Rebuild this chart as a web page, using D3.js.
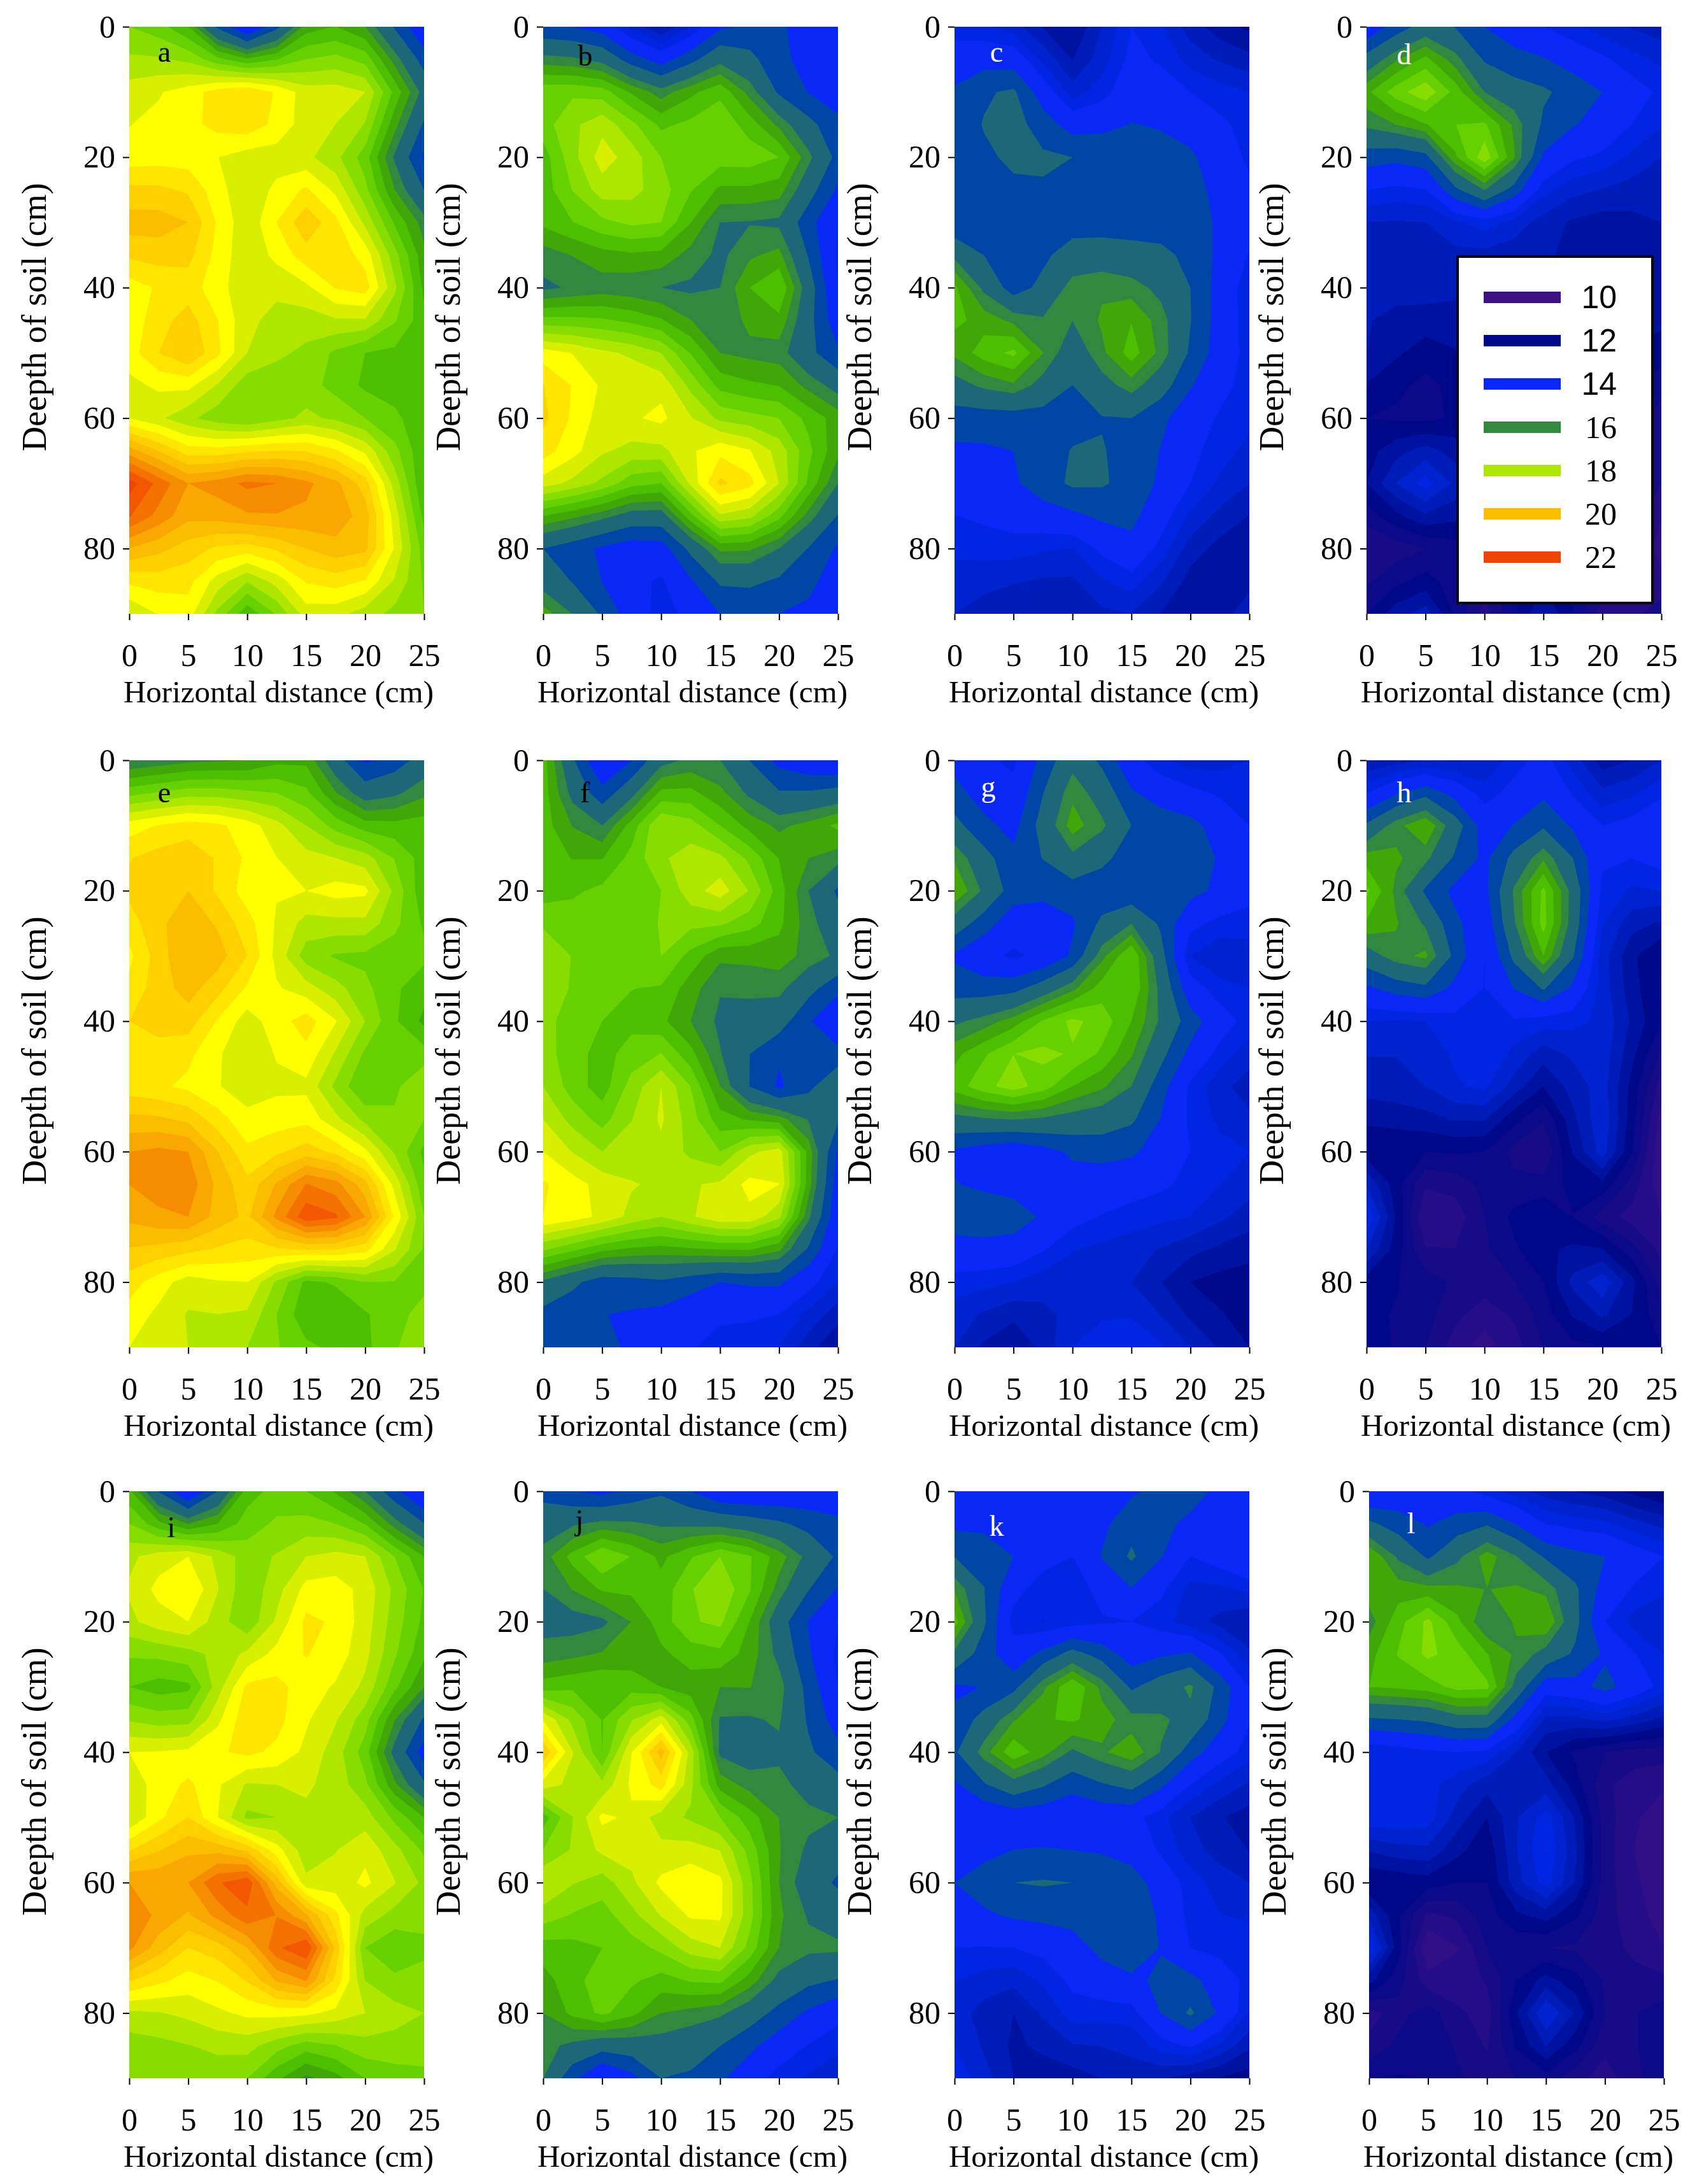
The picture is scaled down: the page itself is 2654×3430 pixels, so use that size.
<!DOCTYPE html>
<html>
<head>
<meta charset="utf-8">
<script src="https://cdn.jsdelivr.net/npm/d3@7"></script>
<style>
  html, body { margin: 0; padding: 0; background: #fff; }
  text { font-family: "Liberation Serif", serif; fill: #000; }
</style>
</head>
<body>
<svg id="chart" width="2654" height="3430"></svg>
<script>
// grid of the measurements
var distances = [0, 5, 10, 15, 20, 25];
var depths = [0, 10, 20, 30, 40, 50, 60, 70, 80, 90];

// rows are depths, columns are distances
var panelA = [
  [17.6, 16.8, 14.0, 16.6, 16.4, 14.1],
  [18.6, 19.0, 19.6, 18.6, 18.4, 15.8],
  [19.0, 19.0, 18.6, 18.5, 17.4, 14.6],
  [20.2, 20.0, 18.5, 19.9, 18.3, 16.2],
  [19.0, 19.4, 18.5, 18.7, 19.4, 16.7],
  [19.0, 20.0, 18.4, 17.9, 17.2, 17.1],
  [18.8, 18.1, 17.6, 18.1, 17.6, 17.0],
  [22.2, 20.8, 21.3, 20.9, 19.8, 16.8],
  [20.4, 19.8, 19.4, 20.0, 20.1, 17.4],
  [18.4, 19.0, 16.9, 18.6, 18.2, 17.6]
];
var panelB = [
  [14.8, 14.4, 12.8, 14.6, 14.8, 14.0],
  [17.5, 17.4, 16.2, 17.1, 15.2, 14.4],
  [17.0, 18.6, 17.6, 17.4, 17.2, 15.1],
  [16.9, 17.5, 17.6, 16.0, 15.9, 14.0],
  [15.9, 16.2, 16.0, 16.0, 17.2, 14.0],
  [19.0, 18.5, 18.0, 16.4, 16.2, 14.8],
  [19.7, 18.6, 18.9, 17.9, 17.6, 16.6],
  [18.6, 17.9, 17.2, 19.7, 18.4, 16.0],
  [15.3, 14.6, 14.4, 16.5, 16.0, 14.6],
  [16.6, 15.2, 13.8, 14.7, 14.7, 14.5]
];
var panelC = [
  [13.8, 13.4, 12.4, 14.0, 13.0, 12.3],
  [14.8, 15.4, 13.4, 14.4, 14.0, 13.6],
  [15.0, 15.4, 15.3, 15.0, 14.8, 13.9],
  [14.8, 15.0, 15.0, 15.0, 15.0, 14.2],
  [16.9, 15.0, 16.2, 16.2, 15.3, 13.7],
  [16.5, 17.3, 15.6, 17.0, 15.2, 13.8],
  [15.0, 15.0, 15.1, 15.3, 14.3, 13.7],
  [14.3, 14.6, 15.4, 15.1, 14.0, 13.2],
  [13.7, 13.8, 13.6, 14.5, 13.0, 12.5],
  [13.2, 12.8, 12.9, 13.2, 12.4, 13.0]
];
var panelD = [
  [14.2, 15.6, 14.7, 14.0, 13.4, 13.0],
  [16.7, 17.9, 16.0, 15.4, 14.7, 13.9],
  [15.0, 15.1, 17.9, 14.6, 13.9, 13.2],
  [13.2, 13.2, 13.8, 13.0, 12.6, 12.8],
  [12.8, 13.0, 12.8, 12.8, 13.0, 12.7],
  [12.8, 12.2, 12.6, 12.5, 12.4, 12.2],
  [12.0, 11.9, 12.2, 12.0, 12.0, 11.4],
  [12.4, 13.8, 12.2, 12.0, 12.0, 11.2],
  [11.2, 11.6, 12.0, 12.0, 12.0, 10.6],
  [12.0, 13.0, 11.0, 12.8, 11.0, 11.4]
];
var panelE = [
  [16.0, 16.3, 16.4, 16.7, 14.6, 15.6],
  [19.0, 19.4, 19.0, 18.0, 17.0, 17.0],
  [19.7, 20.0, 19.0, 18.8, 18.9, 16.9],
  [19.1, 20.4, 19.6, 17.8, 17.5, 17.3],
  [19.6, 19.8, 18.6, 19.4, 18.0, 16.7],
  [19.4, 19.1, 18.6, 18.7, 17.2, 18.0],
  [20.8, 20.8, 19.3, 19.8, 18.9, 17.1],
  [20.5, 20.8, 19.9, 21.9, 20.8, 17.6],
  [19.4, 18.6, 18.8, 17.1, 17.6, 17.5],
  [18.8, 18.4, 18.0, 17.3, 17.1, 18.0]
];
var panelF = [
  [17.0, 14.0, 15.8, 16.0, 14.5, 14.0],
  [17.0, 16.0, 18.0, 17.2, 16.3, 16.9],
  [17.0, 17.3, 17.6, 18.6, 17.0, 15.2],
  [18.0, 17.2, 17.6, 16.5, 16.6, 15.9],
  [17.7, 17.2, 16.9, 15.9, 15.6, 14.0],
  [18.0, 17.0, 18.4, 16.4, 14.6, 15.9],
  [18.8, 18.0, 18.3, 17.6, 18.6, 14.6],
  [19.2, 18.7, 18.0, 18.7, 18.1, 14.2],
  [15.9, 15.0, 15.2, 14.7, 14.8, 13.6],
  [14.7, 14.9, 14.2, 13.9, 13.6, 12.4]
];
var panelG = [
  [14.5, 13.9, 15.8, 14.2, 13.4, 13.6],
  [15.5, 14.5, 16.6, 15.3, 14.9, 14.0],
  [16.8, 15.0, 15.0, 14.8, 14.9, 14.2],
  [14.6, 13.9, 14.8, 17.2, 13.6, 13.4],
  [15.9, 16.6, 17.7, 16.8, 15.0, 13.8],
  [17.0, 17.8, 16.8, 16.0, 13.9, 13.0],
  [14.6, 14.2, 14.8, 14.8, 14.0, 13.6],
  [15.0, 15.0, 14.2, 13.8, 13.6, 13.0],
  [13.8, 13.6, 13.2, 13.2, 12.4, 12.2],
  [13.2, 12.4, 13.6, 14.0, 13.2, 12.4]
];
var panelH = [
  [12.8, 13.2, 13.2, 14.2, 12.6, 13.2],
  [15.4, 16.8, 14.4, 15.2, 14.0, 14.5],
  [17.3, 15.2, 14.5, 17.3, 13.9, 13.6],
  [15.7, 16.5, 14.0, 16.8, 13.4, 12.0],
  [13.6, 13.6, 14.0, 13.8, 13.5, 12.0],
  [13.0, 13.2, 13.7, 12.4, 13.4, 11.0],
  [12.2, 12.0, 12.0, 11.2, 13.4, 10.4],
  [14.0, 10.8, 11.6, 12.4, 11.4, 10.8],
  [12.2, 11.8, 11.4, 12.0, 13.5, 11.4],
  [12.2, 11.6, 10.6, 11.6, 12.0, 12.0]
];
var panelI = [
  [16.9, 14.0, 17.0, 17.2, 16.0, 13.9],
  [18.3, 18.8, 17.8, 18.4, 18.4, 16.8],
  [18.3, 18.8, 17.7, 19.3, 18.6, 17.1],
  [17.2, 17.1, 19.3, 19.0, 18.3, 16.4],
  [18.8, 18.9, 19.3, 18.7, 17.4, 14.4],
  [18.4, 19.6, 17.9, 18.3, 18.2, 16.8],
  [20.8, 20.8, 21.9, 18.5, 18.9, 17.9],
  [20.9, 19.6, 20.4, 22.0, 17.6, 17.5],
  [18.3, 18.5, 18.9, 18.9, 18.4, 18.0],
  [17.6, 17.6, 17.6, 16.3, 17.2, 17.5]
];
var panelJ = [
  [15.1, 14.5, 15.2, 14.1, 14.1, 14.3],
  [16.2, 17.6, 16.7, 17.6, 16.6, 15.2],
  [15.8, 15.9, 17.0, 17.7, 15.6, 14.0],
  [17.0, 17.2, 16.8, 16.4, 16.2, 14.0],
  [20.0, 17.2, 20.2, 15.9, 15.9, 14.9],
  [17.0, 18.9, 18.2, 17.6, 16.4, 16.0],
  [18.4, 17.8, 18.9, 18.9, 16.4, 15.2],
  [17.0, 17.2, 17.7, 18.4, 16.4, 16.1],
  [16.4, 17.3, 16.4, 16.1, 15.1, 14.2],
  [16.0, 13.9, 15.3, 14.8, 13.8, 13.4]
];
var panelK = [
  [14.0, 14.2, 14.0, 14.6, 15.0, 14.0],
  [15.3, 14.7, 14.0, 15.4, 14.0, 14.7],
  [17.0, 13.8, 13.8, 14.0, 13.4, 12.8],
  [14.6, 15.1, 17.2, 15.2, 16.1, 14.0],
  [15.2, 17.1, 15.9, 16.7, 15.0, 13.8],
  [14.0, 14.3, 14.2, 14.2, 13.2, 12.6],
  [14.7, 15.3, 15.3, 15.0, 13.8, 13.2],
  [14.0, 14.0, 14.4, 15.2, 14.0, 13.8],
  [13.4, 12.8, 13.8, 13.8, 15.4, 13.6],
  [13.9, 12.8, 12.6, 13.0, 12.6, 12.2]
];
var panelL = [
  [14.0, 14.4, 13.8, 13.0, 12.6, 12.0],
  [16.8, 15.2, 16.6, 15.2, 14.7, 14.0],
  [16.2, 17.7, 16.0, 16.8, 14.0, 13.2],
  [16.8, 17.0, 17.3, 14.3, 14.9, 13.8],
  [13.6, 13.9, 13.9, 12.4, 11.6, 11.4],
  [13.9, 13.8, 12.4, 13.8, 11.4, 10.6],
  [12.0, 12.2, 12.0, 13.8, 11.4, 10.6],
  [14.0, 10.4, 11.6, 11.6, 11.4, 10.8],
  [11.0, 11.8, 11.0, 13.6, 11.6, 11.8],
  [12.0, 12.0, 11.4, 11.8, 11.0, 12.0]
];

var panels = [panelA, panelB, panelC, panelD, panelE, panelF, panelG, panelH, panelI, panelJ, panelK, panelL];
var letters = ["a", "b", "c", "d", "e", "f", "g", "h", "i", "j", "k", "l"];
var letterColors = ["#000", "#000", "#fff", "#fff", "#000", "#000", "#fff", "#fff", "#000", "#000", "#fff", "#fff"];
var letterDx = [55, 66, 66, 59, 55, 66, 53, 59, 66, 57, 66, 66];
var letterDy = [55, 61, 55, 59, 66, 66, 57, 66, 72, 61, 70, 66];

// colour bands, each one runs from its level up to the next level
var levels = [10, 10.4, 10.8, 11.2, 11.6, 12, 12.4, 12.8, 13.2, 13.6, 14, 14.7, 15.3, 16, 16.4, 16.8, 17.2, 17.6, 18, 18.4, 18.8, 19.2, 19.6, 20, 20.4, 20.8, 21.2, 21.6, 22];
var bandColors = ["#3b1184", "#2f0f85", "#240d87", "#180b88", "#0c0a8a", "#00088a", "#0012a0", "#001cb8", "#0022cf", "#0026e2", "#0a28f5", "#0047a5", "#1d6878", "#33883f", "#3fa707", "#4cc000", "#66d000", "#88dd00", "#aee600", "#d8f000", "#ffff00", "#ffe600", "#ffd000", "#fbbd00", "#f8a800", "#f68c00", "#f37200", "#f15800", "#f04400"];

var legendValues = ["10", "12", "14", "16", "18", "20", "22"];
var legendColors = ["#3b1184", "#00088a", "#0a28f5", "#33883f", "#aee600", "#fbbd00", "#f04400"];

var xTicks = [0, 5, 10, 15, 20, 25];
var yTicks = [0, 20, 40, 60, 80];

// placement on the page
var colLeft = [203, 853, 1499, 2146];
var rowTop = [42, 1194, 2342];
var panelW = 463;
var panelH_px = 922;

// the contour mesh is twice as fine as the measured grid, rounds off the diamonds
var refine = 2;

var cubic = function (a, b, c, d, t) {
  return b + 0.5 * t * (c - a + t * (2 * a - 5 * b + 4 * c - d + t * (3 * (b - c) + d - a)));
};

var refineLine = function (line) {
  var out = [];
  var n = line.length;
  for (var i = 0; i < n - 1; i++) {
    for (var k = 0; k < refine; k++) {
      out.push(cubic(line[Math.max(i - 1, 0)], line[i], line[i + 1], line[Math.min(i + 2, n - 1)], k / refine));
    }
  }
  out.push(line[n - 1]);
  return out;
};

var refineGrid = function (values) {
  var rows = values.map(refineLine);
  var cols = d3.transpose(rows).map(refineLine);
  return d3.transpose(cols);
};

var svg = d3.select("#chart");
var defs = svg.append("defs");

panels.forEach(function (values, idx) {
  var col = idx % 4;
  var row = Math.floor(idx / 4);
  var left = colLeft[col] + (idx == 11 ? 4 : 0);
  var top = rowTop[row];

  var x = d3.scaleLinear().domain([0, 25]).range([0, panelW]);
  var y = d3.scaleLinear().domain([0, 90]).range([0, panelH_px]);

  var g = svg.append("g").attr("transform", "translate(" + left + "," + top + ")");

  defs.append("clipPath").attr("id", "clip" + idx)
    .append("rect").attr("width", panelW).attr("height", panelH_px);

  // d3.contours puts grid point i at i + 0.5
  var proj = d3.geoTransform({
    point: function (px, py) {
      this.stream.point(x((px - 0.5) * 5 / refine), y((py - 0.5) * 10 / refine));
    }
  });
  var path = d3.geoPath(proj);
  var fine = refineGrid(values);
  var contours = d3.contours()
    .size([fine[0].length, fine.length])
    .thresholds(levels)(d3.merge(fine));

  g.append("g").attr("clip-path", "url(#clip" + idx + ")")
    .selectAll("path")
    .data(contours)
    .enter()
    .append("path")
    .attr("d", path)
    .attr("fill", function (d, i) { return bandColors[i]; });

  var xAxis = g.append("g").attr("transform", "translate(0," + panelH_px + ")")
    .call(d3.axisBottom(x).tickValues(xTicks).tickSize(10).tickPadding(36));
  var yAxis = g.append("g")
    .call(d3.axisLeft(y).tickValues(yTicks).tickSize(10).tickPadding(12));

  [xAxis, yAxis].forEach(function (a) {
    a.select(".domain").remove();
    a.selectAll("line").attr("stroke", "#000").attr("stroke-width", 2);
    a.selectAll("text")
      .attr("font-family", "Liberation Serif")
      .attr("font-size", 50);
  });

  g.append("text")
    .attr("x", panelW / 2 + 3)
    .attr("y", panelH_px + 139)
    .attr("text-anchor", "middle")
    .attr("font-size", 49)
    .text("Horizontal distance (cm)");

  g.append("text")
    .attr("transform", "translate(-131," + (panelH_px / 2 - 5) + ") rotate(-90)")
    .attr("text-anchor", "middle")
    .attr("font-size", 54)
    .text("Deepth of soil (cm)");

  g.append("text")
    .attr("x", letterDx[idx])
    .attr("y", letterDy[idx])
    .attr("text-anchor", "middle")
    .attr("font-size", 46)
    .attr("style", "fill:" + letterColors[idx])
    .text(letters[idx]);
});

// legend sits over panel d
var legend = svg.append("g").attr("transform", "translate(2289,403)");
legend.append("rect")
  .attr("width", 306)
  .attr("height", 544)
  .attr("fill", "#fff")
  .attr("stroke", "#000")
  .attr("stroke-width", 4);

var legendY = d3.scalePoint().domain(legendValues).range([64, 472]);

legend.selectAll("rect.swatch")
  .data(legendValues)
  .enter()
  .append("rect")
  .attr("class", "swatch")
  .attr("x", 41)
  .attr("y", function (d) { return legendY(d) - 9; })
  .attr("width", 121)
  .attr("height", 18)
  .attr("fill", function (d, i) { return legendColors[i]; });

legend.selectAll("text")
  .data(legendValues)
  .enter()
  .append("text")
  .attr("x", 250)
  .attr("y", function (d) { return legendY(d) + 17; })
  .attr("text-anchor", "end")
  .attr("font-size", 50)
  .attr("style", function (d, i) { return i < 3 ? 'font-family:"Liberation Sans"' : ""; })
  .text(function (d) { return d; });
</script>
</body>
</html>
